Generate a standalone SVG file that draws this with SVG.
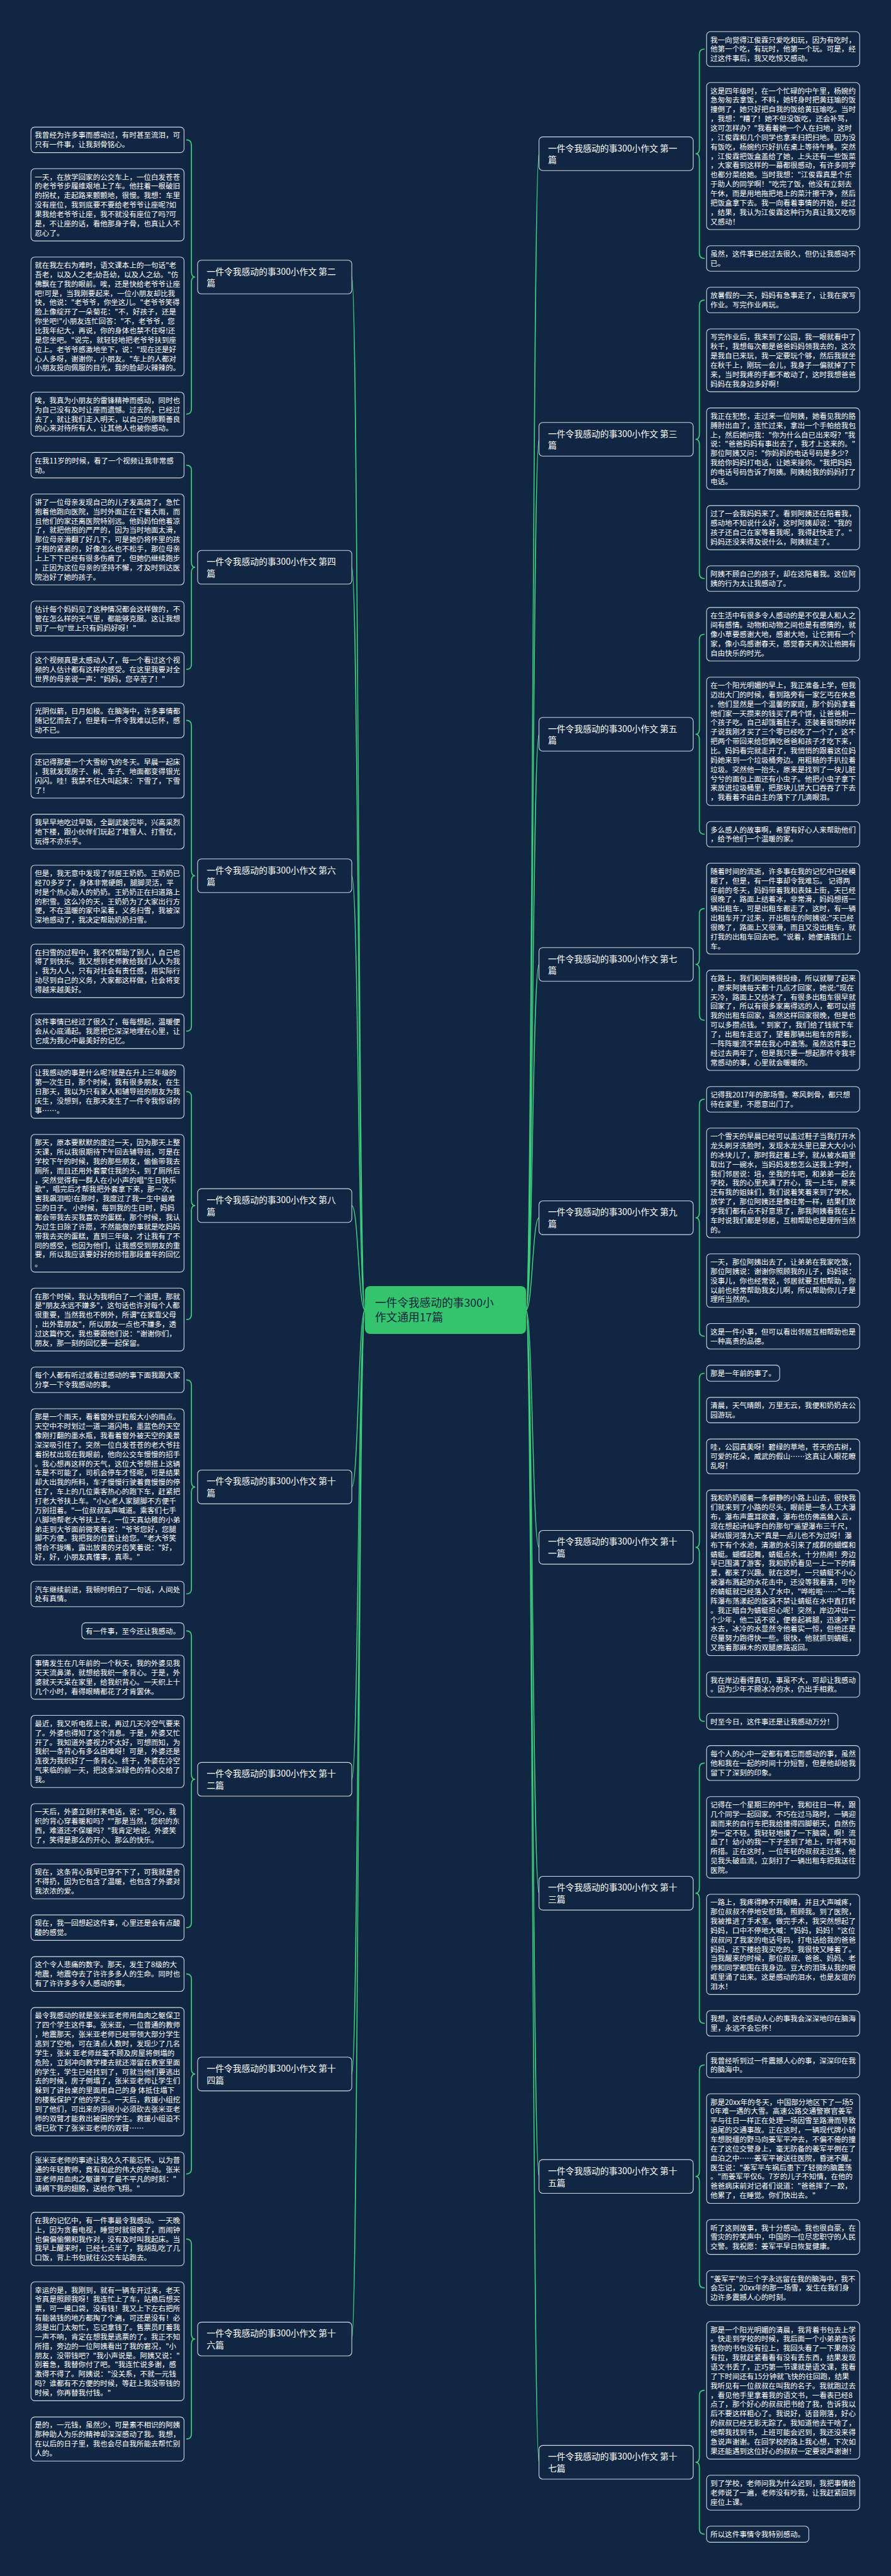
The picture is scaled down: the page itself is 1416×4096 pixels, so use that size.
<svg xmlns="http://www.w3.org/2000/svg" width="1416" height="4096" viewBox="0 0 1416 4096">
<style>
.box{fill:#102642;stroke:#d3d9e0;stroke-width:1.1}
.t{font-family:"Noto Sans CJK SC","Noto Sans",sans-serif;font-size:11.56px;fill:#ffffff;white-space:pre}
.bt{font-family:"Noto Sans CJK SC","Noto Sans",sans-serif;font-size:13.8px;fill:#ffffff;white-space:pre}
.br{fill:none;stroke:#3ecf7c;stroke-width:1.7}
.ln{fill:none;stroke:#3ecf7c;stroke-width:1.5}
</style>
<rect x="0" y="0" width="1416" height="4096" fill="#102642"/>
<g id="connectors">
<path class="ln" d="M580,2083 C569.5,2083 569.5,440.5 559.1,440.5"/>
<path class="ln" d="M580,2083 C569.5,2083 569.5,902 559.1,902"/>
<path class="ln" d="M580,2083 C569.5,2083 569.5,1392.5 559.1,1392.5"/>
<path class="ln" d="M580,2083 C569.5,2083 569.5,1916.9 559.1,1916.9"/>
<path class="ln" d="M580,2083 C569.5,2083 569.5,2364.3 559.1,2364.3"/>
<path class="ln" d="M580,2083 C569.5,2083 569.5,2829.2 559.1,2829.2"/>
<path class="ln" d="M580,2083 C569.5,2083 569.5,3297.8 559.1,3297.8"/>
<path class="ln" d="M580,2083 C569.5,2083 569.5,3719.2 559.1,3719.2"/>
<path class="ln" d="M836,2083 C846.3,2083 846.3,244.4 856.6,244.4"/>
<path class="ln" d="M836,2083 C846.3,2083 846.3,698.5 856.6,698.5"/>
<path class="ln" d="M836,2083 C846.3,2083 846.3,1167.5 856.6,1167.5"/>
<path class="ln" d="M836,2083 C846.3,2083 846.3,1533.5 856.6,1533.5"/>
<path class="ln" d="M836,2083 C846.3,2083 846.3,1936.3 856.6,1936.3"/>
<path class="ln" d="M836,2083 C846.3,2083 846.3,2460.3 856.6,2460.3"/>
<path class="ln" d="M836,2083 C846.3,2083 846.3,3010.3 856.6,3010.3"/>
<path class="ln" d="M836,2083 C846.3,2083 846.3,3460.7 856.6,3460.7"/>
<path class="ln" d="M836,2083 C846.3,2083 846.3,3915.2 856.6,3915.2"/>
<!-- brackets left -->
<path class="br" d="M295.9,222.4 Q304.2,222.4 304.2,230.4 L304.2,432.5 Q304.2,440.5 310.2,440.5 Q304.2,440.5 304.2,448.5 L304.2,650.6 Q304.2,658.6 295.9,658.6"/>
<path class="br" d="M295.9,739.6 Q304.2,739.6 304.2,747.6 L304.2,894 Q304.2,902 310.2,902 Q304.2,902 304.2,910 L304.2,1056.4 Q304.2,1064.4 295.9,1064.4"/>
<path class="br" d="M295.9,1145.4 Q304.2,1145.4 304.2,1153.4 L304.2,1384.5 Q304.2,1392.5 310.2,1392.5 Q304.2,1392.5 304.2,1400.5 L304.2,1631.7 Q304.2,1639.7 295.9,1639.7"/>
<path class="br" d="M295.9,1735.6 Q304.2,1735.6 304.2,1743.6 L304.2,1908.9 Q304.2,1916.9 310.2,1916.9 Q304.2,1916.9 304.2,1924.9 L304.2,2090.2 Q304.2,2098.2 295.9,2098.2"/>
<path class="br" d="M295.9,2194.1 Q304.2,2194.1 304.2,2202.1 L304.2,2356.3 Q304.2,2364.3 310.2,2364.3 Q304.2,2364.3 304.2,2372.3 L304.2,2526.5 Q304.2,2534.5 295.9,2534.5"/>
<path class="br" d="M295.9,2593.2 Q304.2,2593.2 304.2,2601.2 L304.2,2821.2 Q304.2,2829.2 310.2,2829.2 Q304.2,2829.2 304.2,2837.2 L304.2,3057.2 Q304.2,3065.2 295.9,3065.2"/>
<path class="br" d="M295.9,3138.7 Q304.2,3138.7 304.2,3146.7 L304.2,3289.8 Q304.2,3297.8 310.2,3297.8 Q304.2,3297.8 304.2,3305.8 L304.2,3448.8 Q304.2,3456.8 295.9,3456.8"/>
<path class="br" d="M295.9,3560.1 Q304.2,3560.1 304.2,3568.1 L304.2,3711.2 Q304.2,3719.2 310.2,3719.2 Q304.2,3719.2 304.2,3727.2 L304.2,3870.2 Q304.2,3878.2 295.9,3878.2"/>
<!-- brackets right -->
<path class="br" d="M1119.8,78 Q1111.5,78 1111.5,86 L1111.5,236.4 Q1111.5,244.4 1105.4,244.4 Q1111.5,244.4 1111.5,252.4 L1111.5,402.9 Q1111.5,410.9 1119.8,410.9"/>
<path class="br" d="M1119.8,477.1 Q1111.5,477.1 1111.5,485.1 L1111.5,690.5 Q1111.5,698.5 1105.4,698.5 Q1111.5,698.5 1111.5,706.5 L1111.5,912 Q1111.5,920 1119.8,920"/>
<path class="br" d="M1119.8,1008.5 Q1111.5,1008.5 1111.5,1016.5 L1111.5,1159.5 Q1111.5,1167.5 1105.4,1167.5 Q1111.5,1167.5 1111.5,1175.5 L1111.5,1318.5 Q1111.5,1326.5 1119.8,1326.5"/>
<path class="br" d="M1119.8,1444.7 Q1111.5,1444.7 1111.5,1452.7 L1111.5,1525.5 Q1111.5,1533.5 1105.4,1533.5 Q1111.5,1533.5 1111.5,1541.5 L1111.5,1614.3 Q1111.5,1622.3 1119.8,1622.3"/>
<path class="br" d="M1119.8,1747.9 Q1111.5,1747.9 1111.5,1755.9 L1111.5,1928.3 Q1111.5,1936.3 1105.4,1936.3 Q1111.5,1936.3 1111.5,1944.3 L1111.5,2116.7 Q1111.5,2124.7 1119.8,2124.7"/>
<path class="br" d="M1119.8,2183.5 Q1111.5,2183.5 1111.5,2191.5 L1111.5,2452.3 Q1111.5,2460.3 1105.4,2460.3 Q1111.5,2460.3 1111.5,2468.3 L1111.5,2729.2 Q1111.5,2737.2 1119.8,2737.2"/>
<path class="br" d="M1119.8,2803.3 Q1111.5,2803.3 1111.5,2811.3 L1111.5,3002.3 Q1111.5,3010.3 1105.4,3010.3 Q1111.5,3010.3 1111.5,3018.3 L1111.5,3209.3 Q1111.5,3217.3 1119.8,3217.3"/>
<path class="br" d="M1119.8,3283.4 Q1111.5,3283.4 1111.5,3291.4 L1111.5,3452.7 Q1111.5,3460.7 1105.4,3460.7 Q1111.5,3460.7 1111.5,3468.7 L1111.5,3629.9 Q1111.5,3637.9 1119.8,3637.9"/>
<path class="br" d="M1119.8,3800.7 Q1111.5,3800.7 1111.5,3808.7 L1111.5,3907.2 Q1111.5,3915.2 1105.4,3915.2 Q1111.5,3915.2 1111.5,3923.2 L1111.5,4021.6 Q1111.5,4029.6 1119.8,4029.6"/>
</g>
<g id="center">
<rect x="580" y="2045" width="256" height="76" rx="8" fill="#35c46e"/>
<text x="596" y="2078" font-family="Noto Sans CJK SC, sans-serif" font-size="17.7" fill="#10263f">一件令我感动的事300小</text>
<text x="596" y="2101" font-family="Noto Sans CJK SC, sans-serif" font-size="17.7" fill="#10263f">作文通用17篇</text>
</g>
<!-- branch nodes -->
<g id="b2"><rect class="box" x="314.1" y="413.7" width="245" height="53.6" rx="6"/><text class="bt" x="328.5" y="436.6">一件令我感动的事300小作文 第二</text><text class="bt" x="328.5" y="455.4">篇</text></g>
<g id="b4"><rect class="box" x="314.1" y="875.2" width="245" height="53.6" rx="6"/><text class="bt" x="328.5" y="898.1">一件令我感动的事300小作文 第四</text><text class="bt" x="328.5" y="916.9">篇</text></g>
<g id="b6"><rect class="box" x="314.1" y="1365.7" width="245" height="53.6" rx="6"/><text class="bt" x="328.5" y="1388.6">一件令我感动的事300小作文 第六</text><text class="bt" x="328.5" y="1407.4">篇</text></g>
<g id="b8"><rect class="box" x="314.1" y="1890.1" width="245" height="53.6" rx="6"/><text class="bt" x="328.5" y="1913">一件令我感动的事300小作文 第八</text><text class="bt" x="328.5" y="1931.8">篇</text></g>
<g id="b10"><rect class="box" x="314.1" y="2337.5" width="245" height="53.6" rx="6"/><text class="bt" x="328.5" y="2360.4">一件令我感动的事300小作文 第十</text><text class="bt" x="328.5" y="2379.2">篇</text></g>
<g id="b12"><rect class="box" x="314.1" y="2802.4" width="245" height="53.6" rx="6"/><text class="bt" x="328.5" y="2825.3">一件令我感动的事300小作文 第十</text><text class="bt" x="328.5" y="2844.1">二篇</text></g>
<g id="b14"><rect class="box" x="314.1" y="3271" width="245" height="53.6" rx="6"/><text class="bt" x="328.5" y="3293.9">一件令我感动的事300小作文 第十</text><text class="bt" x="328.5" y="3312.7">四篇</text></g>
<g id="b16"><rect class="box" x="314.1" y="3692.4" width="245" height="53.6" rx="6"/><text class="bt" x="328.5" y="3715.3">一件令我感动的事300小作文 第十</text><text class="bt" x="328.5" y="3734.1">六篇</text></g>
<g id="b1"><rect class="box" x="856.6" y="217.6" width="245" height="53.6" rx="6"/><text class="bt" x="871" y="240.5">一件令我感动的事300小作文 第一</text><text class="bt" x="871" y="259.3">篇</text></g>
<g id="b3"><rect class="box" x="856.6" y="671.7" width="245" height="53.6" rx="6"/><text class="bt" x="871" y="694.6">一件令我感动的事300小作文 第三</text><text class="bt" x="871" y="713.4">篇</text></g>
<g id="b5"><rect class="box" x="856.6" y="1140.7" width="245" height="53.6" rx="6"/><text class="bt" x="871" y="1163.6">一件令我感动的事300小作文 第五</text><text class="bt" x="871" y="1182.4">篇</text></g>
<g id="b7"><rect class="box" x="856.6" y="1506.7" width="245" height="53.6" rx="6"/><text class="bt" x="871" y="1529.6">一件令我感动的事300小作文 第七</text><text class="bt" x="871" y="1548.4">篇</text></g>
<g id="b9"><rect class="box" x="856.6" y="1909.5" width="245" height="53.6" rx="6"/><text class="bt" x="871" y="1932.4">一件令我感动的事300小作文 第九</text><text class="bt" x="871" y="1951.2">篇</text></g>
<g id="b11"><rect class="box" x="856.6" y="2433.5" width="245" height="53.6" rx="6"/><text class="bt" x="871" y="2456.4">一件令我感动的事300小作文 第十</text><text class="bt" x="871" y="2475.2">一篇</text></g>
<g id="b13"><rect class="box" x="856.6" y="2983.5" width="245" height="53.6" rx="6"/><text class="bt" x="871" y="3006.4">一件令我感动的事300小作文 第十</text><text class="bt" x="871" y="3025.2">三篇</text></g>
<g id="b15"><rect class="box" x="856.6" y="3433.9" width="245" height="53.6" rx="6"/><text class="bt" x="871" y="3456.8">一件令我感动的事300小作文 第十</text><text class="bt" x="871" y="3475.6">五篇</text></g>
<g id="b17"><rect class="box" x="856.6" y="3888.4" width="245" height="53.6" rx="6"/><text class="bt" x="871" y="3911.3">一件令我感动的事300小作文 第十</text><text class="bt" x="871" y="3930.1">七篇</text></g>
<!-- left leaves -->
<g id="l2-1"><rect class="box" x="49.2" y="202.1" width="243.3" height="40.5" rx="6"/><text class="t" x="55.3" y="219.4"><tspan x="55.3">我曾经为许多事而感动过，有时甚至流泪，可</tspan><tspan x="55.3" dy="14.86">只有一件事，让我刻骨铭心。</tspan></text></g>
<g id="l2-2"><rect class="box" x="49.2" y="268.3" width="243.3" height="114.8" rx="6"/><text class="t" x="55.3" y="285.6"><tspan x="55.3">一天，在放学回家的公交车上，一位白发苍苍</tspan><tspan x="55.3" dy="14.86">的老爷爷步履维艰地上了车。他拄着一根破旧</tspan><tspan x="55.3" dy="14.86">的拐杖，走起路来颤颤地，很慢。我想：车里</tspan><tspan x="55.3" dy="14.86">没有座位，我到底要不要给老爷爷让座呢?如</tspan><tspan x="55.3" dy="14.86">果我给老爷爷让座，我不就没有座位了吗?可</tspan><tspan x="55.3" dy="14.86">是，不让座的话，看他那身子骨，也真让人不</tspan><tspan x="55.3" dy="14.86">忍心了。</tspan></text></g>
<g id="l2-3"><rect class="box" x="49.2" y="408.7" width="243.3" height="189.1" rx="6"/><text class="t" x="55.3" y="426"><tspan x="55.3">就在我左右为难时，语文课本上的一句话"老</tspan><tspan x="55.3" dy="14.86">吾老，以及人之老;幼吾幼，以及人之幼。"仿</tspan><tspan x="55.3" dy="14.86">佛飘在了我的眼前。唉，还是快给老爷爷让座</tspan><tspan x="55.3" dy="14.86">吧!可是，当我刚要起来，一位小朋友却比我</tspan><tspan x="55.3" dy="14.86">快，他说："老爷爷，你坐这儿。"老爷爷笑得</tspan><tspan x="55.3" dy="14.86">脸上像绽开了一朵菊花："不，好孩子，还是</tspan><tspan x="55.3" dy="14.86">你坐吧!"小朋友连忙回答："不，老爷爷，您</tspan><tspan x="55.3" dy="14.86">比我年纪大，再说，你的身体也禁不住呀!还</tspan><tspan x="55.3" dy="14.86">是您坐吧。"说完，就轻轻地把老爷爷扶到座</tspan><tspan x="55.3" dy="14.86">位上。老爷爷感激地坐下，说："现在还是好</tspan><tspan x="55.3" dy="14.86">心人多呀，谢谢你，小朋友。"车上的人都对</tspan><tspan x="55.3" dy="14.86">小朋友投向佩服的目光，我的脸却火辣辣的。</tspan></text></g>
<g id="l2-4"><rect class="box" x="49.2" y="623.5" width="243.3" height="70.2" rx="6"/><text class="t" x="55.3" y="640.8"><tspan x="55.3">唉，我真为小朋友的雷锋精神而感动，同时也</tspan><tspan x="55.3" dy="14.86">为自己没有及时让座而遗憾。过去的，已经过</tspan><tspan x="55.3" dy="14.86">去了，就让我们走入明天，以自己的那颗善良</tspan><tspan x="55.3" dy="14.86">的心来对待所有人，让其他人也被你感动。</tspan></text></g>
<g id="l4-1"><rect class="box" x="49.2" y="719.4" width="243.3" height="40.5" rx="6"/><text class="t" x="55.3" y="736.7"><tspan x="55.3">在我11岁的时候，看了一个视频让我非常感</tspan><tspan x="55.3" dy="14.86">动。</tspan></text></g>
<g id="l4-2"><rect class="box" x="49.2" y="785.5" width="243.3" height="144.5" rx="6"/><text class="t" x="55.3" y="802.8"><tspan x="55.3">讲了一位母亲发现自己的儿子发高烧了，急忙</tspan><tspan x="55.3" dy="14.86">抱着他跑向医院，当时外面正在下着大雨，而</tspan><tspan x="55.3" dy="14.86">且他们的家还离医院特别远。他妈妈怕他着凉</tspan><tspan x="55.3" dy="14.86">了，就把他抱的严严的，因为当时地面太滑，</tspan><tspan x="55.3" dy="14.86">那位母亲滑翻了好几下，可是她仍将怀里的孩</tspan><tspan x="55.3" dy="14.86">子抱的紧紧的，好像怎么也不松手，那位母亲</tspan><tspan x="55.3" dy="14.86">上上下下已经有很多伤痕了，但她仍继续跑步</tspan><tspan x="55.3" dy="14.86">，正因为这位母亲的坚持不懈，才及时到达医</tspan><tspan x="55.3" dy="14.86">院治好了她的孩子。</tspan></text></g>
<g id="l4-3"><rect class="box" x="49.2" y="955.7" width="243.3" height="55.4" rx="6"/><text class="t" x="55.3" y="973"><tspan x="55.3">估计每个妈妈见了这种情况都会这样做的，不</tspan><tspan x="55.3" dy="14.86">管在怎么样的天气里，都能够克服。这让我想</tspan><tspan x="55.3" dy="14.86">到了一句"世上只有妈妈好呀！"</tspan></text></g>
<g id="l4-4"><rect class="box" x="49.2" y="1036.7" width="243.3" height="55.4" rx="6"/><text class="t" x="55.3" y="1054"><tspan x="55.3">这个视频真是太感动人了，每一个看过这个视</tspan><tspan x="55.3" dy="14.86">频的人估计都有这样的感受。在这里我要对全</tspan><tspan x="55.3" dy="14.86">世界的母亲说一声："妈妈，您辛苦了！"</tspan></text></g>
<g id="l6-1"><rect class="box" x="49.2" y="1117.7" width="243.3" height="55.4" rx="6"/><text class="t" x="55.3" y="1135"><tspan x="55.3">光阴似箭，日月如梭。在脑海中，许多事情都</tspan><tspan x="55.3" dy="14.86">随记忆而去了，但是有一件令我难以忘怀，感</tspan><tspan x="55.3" dy="14.86">动不已。</tspan></text></g>
<g id="l6-2"><rect class="box" x="49.2" y="1198.8" width="243.3" height="70.2" rx="6"/><text class="t" x="55.3" y="1216.1"><tspan x="55.3">还记得那是一个大雪纷飞的冬天。早晨一起床</tspan><tspan x="55.3" dy="14.86">，我就发现房子、树、车子、地面都变得银光</tspan><tspan x="55.3" dy="14.86">闪闪。哇！我禁不住大叫起来：下雪了，下雪</tspan><tspan x="55.3" dy="14.86">了！</tspan></text></g>
<g id="l6-3"><rect class="box" x="49.2" y="1294.6" width="243.3" height="55.4" rx="6"/><text class="t" x="55.3" y="1311.9"><tspan x="55.3">我早早地吃过早饭，全副武装完毕，兴高采烈</tspan><tspan x="55.3" dy="14.86">地下楼，跟小伙伴们玩起了堆雪人、打雪仗，</tspan><tspan x="55.3" dy="14.86">玩得不亦乐乎。</tspan></text></g>
<g id="l6-4"><rect class="box" x="49.2" y="1375.7" width="243.3" height="99.9" rx="6"/><text class="t" x="55.3" y="1393"><tspan x="55.3">但是，我无意中发现了邻居王奶奶。王奶奶已</tspan><tspan x="55.3" dy="14.86">经70多岁了，身体非常硬朗，腿脚灵活，平</tspan><tspan x="55.3" dy="14.86">时是个热心助人的奶奶。王奶奶正在扫道路上</tspan><tspan x="55.3" dy="14.86">的积雪。这么冷的天，王奶奶为了大家出行方</tspan><tspan x="55.3" dy="14.86">便，不在温暖的家中呆着，义务扫雪，我被深</tspan><tspan x="55.3" dy="14.86">深地感动了，我决定帮助奶奶扫雪。</tspan></text></g>
<g id="l6-5"><rect class="box" x="49.2" y="1501.3" width="243.3" height="85.1" rx="6"/><text class="t" x="55.3" y="1518.6"><tspan x="55.3">在扫雪的过程中，我不仅帮助了别人，自己也</tspan><tspan x="55.3" dy="14.86">得了到快乐。我又想到老师教给我们人人为我</tspan><tspan x="55.3" dy="14.86">，我为人人，只有对社会有责任感，用实际行</tspan><tspan x="55.3" dy="14.86">动尽到自己的义务，大家都这样做，社会将变</tspan><tspan x="55.3" dy="14.86">得越来越美好。</tspan></text></g>
<g id="l6-6"><rect class="box" x="49.2" y="1612" width="243.3" height="55.4" rx="6"/><text class="t" x="55.3" y="1629.3"><tspan x="55.3">这件事情已经过了很久了，每每想起，温暖便</tspan><tspan x="55.3" dy="14.86">会从心底涌起。我愿把它深深地埋在心里，让</tspan><tspan x="55.3" dy="14.86">它成为我心中最美好的记忆。</tspan></text></g>
<g id="l8-1"><rect class="box" x="49.2" y="1693" width="243.3" height="85.1" rx="6"/><text class="t" x="55.3" y="1710.3"><tspan x="55.3">让我感动的事是什么呢?就是在升上三年级的</tspan><tspan x="55.3" dy="14.86">第一次生日，那个时候，我有很多朋友，在生</tspan><tspan x="55.3" dy="14.86">日那天，我以为只有家人和辅导班的朋友为我</tspan><tspan x="55.3" dy="14.86">庆生，没想到，在那天发生了一件令我惊讶的</tspan><tspan x="55.3" dy="14.86">事……。</tspan></text></g>
<g id="l8-2"><rect class="box" x="49.2" y="1803.8" width="243.3" height="218.8" rx="6"/><text class="t" x="55.3" y="1821.1"><tspan x="55.3">那天，原本要默默的度过一天，因为那天上整</tspan><tspan x="55.3" dy="14.86">天课，所以我很期待下午回去辅导班，可是在</tspan><tspan x="55.3" dy="14.86">学校下午的时候，我的那些朋友，偷偷带我去</tspan><tspan x="55.3" dy="14.86">厕所，而且还用外套蒙住我的头，到了厕所后</tspan><tspan x="55.3" dy="14.86">，突然觉得有一群人在小小声的唱"生日快乐</tspan><tspan x="55.3" dy="14.86">歌"，唱完后才帮我把外套拿下来，那一次，</tspan><tspan x="55.3" dy="14.86">害我飙泪啦!在那时，我度过了我一生中最难</tspan><tspan x="55.3" dy="14.86">忘的日子。 小时候，每到我的生日时，妈妈</tspan><tspan x="55.3" dy="14.86">都会带我去买我喜欢的蛋糕，那个时候，我认</tspan><tspan x="55.3" dy="14.86">为过生日除了许愿，不然能做的事就是吃妈妈</tspan><tspan x="55.3" dy="14.86">带我去买的蛋糕，直到三年级，才让我有了不</tspan><tspan x="55.3" dy="14.86">同的感受，也因为他们，让我感受到朋友的重</tspan><tspan x="55.3" dy="14.86">要，所以我应该要好好的珍惜那段童年的回忆</tspan><tspan x="55.3" dy="14.86">。</tspan></text></g>
<g id="l8-3"><rect class="box" x="49.2" y="2048.2" width="243.3" height="99.9" rx="6"/><text class="t" x="55.3" y="2065.5"><tspan x="55.3">在那个时候，我认为我明白了一个道理，那就</tspan><tspan x="55.3" dy="14.86">是"朋友永远不嫌多"，这句话也许对每个人都</tspan><tspan x="55.3" dy="14.86">很重要，当然我也不例外，所谓"在家靠父母</tspan><tspan x="55.3" dy="14.86">，出外靠朋友"，所以朋友一点也不嫌多，透</tspan><tspan x="55.3" dy="14.86">过这篇作文，我也要跟他们说："谢谢你们，</tspan><tspan x="55.3" dy="14.86">朋友，那一刻的回忆要一起保留。</tspan></text></g>
<g id="l10-1"><rect class="box" x="49.2" y="2173.8" width="243.3" height="40.5" rx="6"/><text class="t" x="55.3" y="2191.1"><tspan x="55.3">每个人都有听过或看过感动的事下面我跟大家</tspan><tspan x="55.3" dy="14.86">分享一下令我感动的事。</tspan></text></g>
<g id="l10-2"><rect class="box" x="49.2" y="2240" width="243.3" height="248.5" rx="6"/><text class="t" x="55.3" y="2257.3"><tspan x="55.3">那是一个雨天，看着窗外豆粒般大小的雨点。</tspan><tspan x="55.3" dy="14.86">天空中不时划过一道一道闪电，墨蓝色的天空</tspan><tspan x="55.3" dy="14.86">像刚打翻的墨水瓶，我看着窗外被天空的美景</tspan><tspan x="55.3" dy="14.86">深深吸引住了。突然一位白发苍苍的老大爷拄</tspan><tspan x="55.3" dy="14.86">着拐杖出现在我眼前，他向公交车慢慢的招手</tspan><tspan x="55.3" dy="14.86">。我心想再这样的天气，这位大爷想搭上这辆</tspan><tspan x="55.3" dy="14.86">车是不可能了，司机会停车才怪呢，可是结果</tspan><tspan x="55.3" dy="14.86">却大出我的所料，车子慢慢行驶着竟慢慢的停</tspan><tspan x="55.3" dy="14.86">住了，车上的几位乘客热心的跑下车，赶紧把</tspan><tspan x="55.3" dy="14.86">打老大爷扶上车。"小心老人家腿脚不方便千</tspan><tspan x="55.3" dy="14.86">万别扭着。"一位叔叔高声喊道。乘客们七手</tspan><tspan x="55.3" dy="14.86">八脚地帮老大爷扶上车，一位天真幼稚的小弟</tspan><tspan x="55.3" dy="14.86">弟走到大爷面前微笑着说："爷爷您好，您腿</tspan><tspan x="55.3" dy="14.86">脚不方便。我把我的位置让给您。"老大爷笑</tspan><tspan x="55.3" dy="14.86">得合不拢嘴，露出放黄的牙齿笑着说："好，</tspan><tspan x="55.3" dy="14.86">好，好，小朋友真懂事，真乖。"</tspan></text></g>
<g id="l10-3"><rect class="box" x="49.2" y="2514.2" width="243.3" height="40.5" rx="6"/><text class="t" x="55.3" y="2531.5"><tspan x="55.3">汽车继续前进，我顿时明白了一句话，人间处</tspan><tspan x="55.3" dy="14.86">处有真情。</tspan></text></g>
<g id="l12-1"><rect class="box" x="130" y="2580.4" width="162.5" height="25.6" rx="6"/><text class="t" x="136.1" y="2597.7">有一件事，至今还让我感动。</text></g>
<g id="l12-2"><rect class="box" x="49.2" y="2631.7" width="243.3" height="70.2" rx="6"/><text class="t" x="55.3" y="2649"><tspan x="55.3">事情发生在几年前的一个秋天，我的外婆见我</tspan><tspan x="55.3" dy="14.86">天天流鼻涕，就想给我织一条背心。于是，外</tspan><tspan x="55.3" dy="14.86">婆就天天呆在家里，给我织背心。一天织上十</tspan><tspan x="55.3" dy="14.86">几个小时，看得眼睛都花了才肯罢休。</tspan></text></g>
<g id="l12-3"><rect class="box" x="49.2" y="2727.5" width="243.3" height="114.8" rx="6"/><text class="t" x="55.3" y="2744.8"><tspan x="55.3">最近，我又听电视上说，再过几天冷空气要来</tspan><tspan x="55.3" dy="14.86">了。外婆也得知了这个消息。于是，外婆又忙</tspan><tspan x="55.3" dy="14.86">开了。我知道外婆视力不太好，可想而知，为</tspan><tspan x="55.3" dy="14.86">我织一条背心有多么困难呀！可是，外婆还是</tspan><tspan x="55.3" dy="14.86">连夜为我织好了一条背心。终于，外婆在冷空</tspan><tspan x="55.3" dy="14.86">气来临的前一天，把这条深绿色的背心交给了</tspan><tspan x="55.3" dy="14.86">我。</tspan></text></g>
<g id="l12-4"><rect class="box" x="49.2" y="2868" width="243.3" height="70.2" rx="6"/><text class="t" x="55.3" y="2885.3"><tspan x="55.3">一天后，外婆立刻打来电话，说："可心，我</tspan><tspan x="55.3" dy="14.86">织的背心穿着暖和吗？""那是当然，您织的东</tspan><tspan x="55.3" dy="14.86">西，难道还不保暖吗？"我肯定地说。外婆笑</tspan><tspan x="55.3" dy="14.86">了，笑得是那么的开心、那么的快乐。</tspan></text></g>
<g id="l12-5"><rect class="box" x="49.2" y="2963.9" width="243.3" height="55.4" rx="6"/><text class="t" x="55.3" y="2981.2"><tspan x="55.3">现在，这条背心我早已穿不下了，可我就是舍</tspan><tspan x="55.3" dy="14.86">不得扔，因为它包含了温暖，也包含了外婆对</tspan><tspan x="55.3" dy="14.86">我浓浓的爱。</tspan></text></g>
<g id="l12-6"><rect class="box" x="49.2" y="3044.9" width="243.3" height="40.5" rx="6"/><text class="t" x="55.3" y="3062.2"><tspan x="55.3">现在，我一回想起这件事，心里还是会有点酸</tspan><tspan x="55.3" dy="14.86">酸的感觉。</tspan></text></g>
<g id="l14-1"><rect class="box" x="49.2" y="3111.1" width="243.3" height="55.4" rx="6"/><text class="t" x="55.3" y="3128.4"><tspan x="55.3">这个令人悲痛的数字。那天，发生了8级的大</tspan><tspan x="55.3" dy="14.86">地震，地震夺去了许许多多人的生命。同时也</tspan><tspan x="55.3" dy="14.86">有了许许多多令人感动的事。</tspan></text></g>
<g id="l14-2"><rect class="box" x="49.2" y="3192.1" width="243.3" height="204" rx="6"/><text class="t" x="55.3" y="3209.4"><tspan x="55.3">最令我感动的就是张米亚老师用血肉之躯保卫</tspan><tspan x="55.3" dy="14.86">了四个学生这件事。张米亚，一位普通的教师</tspan><tspan x="55.3" dy="14.86">，地震那天，张米亚老师已经带领大部分学生</tspan><tspan x="55.3" dy="14.86">逃到了空地，可在清点人数时，发现少了几名</tspan><tspan x="55.3" dy="14.86">学生，张米 亚老师丝毫不顾及房屋将倒塌的</tspan><tspan x="55.3" dy="14.86">危险，立刻冲向教学楼去就还滞留在教室里面</tspan><tspan x="55.3" dy="14.86">的学生，学生已经找到了，可就当他们要逃出</tspan><tspan x="55.3" dy="14.86">去的时候，房子倒塌了，张米亚老师让学生们</tspan><tspan x="55.3" dy="14.86">躲到了讲台桌的里面用自己的身 体抵住塌下</tspan><tspan x="55.3" dy="14.86">的楼板保护了他的学生。一天后，救援小组挖</tspan><tspan x="55.3" dy="14.86">到了他们，可出来的洞很小必须砍去张米亚老</tspan><tspan x="55.3" dy="14.86">师的双臂才能救出被困的学生。救援小组迫不</tspan><tspan x="55.3" dy="14.86">得已砍下了张米亚老师的双臂……</tspan></text></g>
<g id="l14-3"><rect class="box" x="49.2" y="3421.7" width="243.3" height="70.2" rx="6"/><text class="t" x="55.3" y="3439"><tspan x="55.3">张米亚老师的事迹让我久久不能忘怀。以为普</tspan><tspan x="55.3" dy="14.86">通的年轻教师，竟有如此的伟大的举动。张米</tspan><tspan x="55.3" dy="14.86">亚老师用血肉之躯谱写了最不平凡的时刻："</tspan><tspan x="55.3" dy="14.86">请摘下我的翅膀，送给你飞翔。"</tspan></text></g>
<g id="l16-1"><rect class="box" x="49.2" y="3517.6" width="243.3" height="85.1" rx="6"/><text class="t" x="55.3" y="3534.9"><tspan x="55.3">在我的记忆中，有一件事最令我感动。一天晚</tspan><tspan x="55.3" dy="14.86">上，因为贪看电视，睡觉时就很晚了，而闹钟</tspan><tspan x="55.3" dy="14.86">也偏偏偷懒和我作对，没有及时叫我起床。当</tspan><tspan x="55.3" dy="14.86">我早上醒来时，已经七点半了，我胡乱吃了几</tspan><tspan x="55.3" dy="14.86">口饭，背上书包就往公交车站跑去。</tspan></text></g>
<g id="l16-2"><rect class="box" x="49.2" y="3628.3" width="243.3" height="189.1" rx="6"/><text class="t" x="55.3" y="3645.6"><tspan x="55.3">幸运的是，我刚到，就有一辆车开过来，老天</tspan><tspan x="55.3" dy="14.86">爷真是照顾我呀！我连忙上了车，站稳后想买</tspan><tspan x="55.3" dy="14.86">票，可一摸口袋，没有钱！我又上下左右把所</tspan><tspan x="55.3" dy="14.86">有能装钱的地方都掏了个遍，可还是没有！必</tspan><tspan x="55.3" dy="14.86">须是出门太匆忙，忘记拿钱了。售票员盯着我</tspan><tspan x="55.3" dy="14.86">一声不响，肯定在想我是逃票的了。我正不知</tspan><tspan x="55.3" dy="14.86">所措，旁边的一位阿姨看出了我的窘况，"小</tspan><tspan x="55.3" dy="14.86">朋友，没带钱吧？"我小声说是。阿姨又说："</tspan><tspan x="55.3" dy="14.86">别着急，我替你付了吧。"我连忙说多谢，感</tspan><tspan x="55.3" dy="14.86">激得不得了。阿姨说："没关系，不就一元钱</tspan><tspan x="55.3" dy="14.86">吗？谁都有不方便的时候，等赶上我没带钱的</tspan><tspan x="55.3" dy="14.86">时候，你再替我付钱。"</tspan></text></g>
<g id="l16-3"><rect class="box" x="49.2" y="3843.1" width="243.3" height="70.2" rx="6"/><text class="t" x="55.3" y="3860.4"><tspan x="55.3">是的，一元钱，虽然少，可是素不相识的阿姨</tspan><tspan x="55.3" dy="14.86">那种助人为乐的精神却深深感动了我。我想，</tspan><tspan x="55.3" dy="14.86">在以后的日子里，我也会尽自我所能去帮忙别</tspan><tspan x="55.3" dy="14.86">人的。</tspan></text></g>
<!-- right leaves -->
<g id="r1-1"><rect class="box" x="1122.9" y="50.3" width="243.3" height="55.4" rx="6"/><text class="t" x="1129" y="67.6"><tspan x="1129">我一向觉得江俊霖只爱吃和玩，因为有吃时，</tspan><tspan x="1129" dy="14.86">他第一个吃，有玩时，他第一个玩。可是，经</tspan><tspan x="1129" dy="14.86">过这件事后，我又吃惊又感动。</tspan></text></g>
<g id="r1-2"><rect class="box" x="1122.9" y="131.3" width="243.3" height="233.7" rx="6"/><text class="t" x="1129" y="148.6"><tspan x="1129">这是四年级时，在一个忙碌的中午里，杨婉约</tspan><tspan x="1129" dy="14.86">急匆匆去拿饭，不料，她转身时把黄珏瑜的饭</tspan><tspan x="1129" dy="14.86">撞倒了，她只好把自我的饭给黄珏瑜吃。当时</tspan><tspan x="1129" dy="14.86">，我想："糟了！她不但没饭吃，还会补骂，</tspan><tspan x="1129" dy="14.86">这可怎样办？"我看着她一个人在扫地，这时</tspan><tspan x="1129" dy="14.86">，江俊霖和几个同学也拿来扫把扫地。因为没</tspan><tspan x="1129" dy="14.86">有饭吃，杨婉约只好扒在桌上等待午睡。突然</tspan><tspan x="1129" dy="14.86">，江俊霖把饭盒盖给了她，上头还有一些饭菜</tspan><tspan x="1129" dy="14.86">，大家看到这样的一幕都很感动，有许多同学</tspan><tspan x="1129" dy="14.86">也都分菜给她。当时我想："江俊霖真是个乐</tspan><tspan x="1129" dy="14.86">于助人的同学啊！"吃完了饭，他没有立刻去</tspan><tspan x="1129" dy="14.86">午休，而是用地拖把地上的菜汁擦干净，然后</tspan><tspan x="1129" dy="14.86">把饭盒拿下去。我一向看着事情的开始，经过</tspan><tspan x="1129" dy="14.86">，结果，我认为江俊霖这种行为真让我又吃惊</tspan><tspan x="1129" dy="14.86">又感动！</tspan></text></g>
<g id="r1-3"><rect class="box" x="1122.9" y="390.7" width="243.3" height="40.5" rx="6"/><text class="t" x="1129" y="408"><tspan x="1129">虽然，这件事已经过去很久，但仍让我感动不</tspan><tspan x="1129" dy="14.86">已。</tspan></text></g>
<g id="r3-1"><rect class="box" x="1122.9" y="456.8" width="243.3" height="40.5" rx="6"/><text class="t" x="1129" y="474.1"><tspan x="1129">放暑假的一天，妈妈有急事走了，让我在家写</tspan><tspan x="1129" dy="14.86">作业。写完作业再玩。</tspan></text></g>
<g id="r3-2"><rect class="box" x="1122.9" y="523" width="243.3" height="99.9" rx="6"/><text class="t" x="1129" y="540.3"><tspan x="1129">写完作业后，我来到了公园，我一眼就看中了</tspan><tspan x="1129" dy="14.86">秋千，我想每次都是爸爸妈妈领我去的，这次</tspan><tspan x="1129" dy="14.86">是我自已来玩，我一定要玩个够，然后我就坐</tspan><tspan x="1129" dy="14.86">在秋千上，刚玩一会儿，我身子一偏就掉了下</tspan><tspan x="1129" dy="14.86">来，当时我疼的手都不敢动了，这时我想爸爸</tspan><tspan x="1129" dy="14.86">妈妈在我身边多好啊！</tspan></text></g>
<g id="r3-3"><rect class="box" x="1122.9" y="648.6" width="243.3" height="129.7" rx="6"/><text class="t" x="1129" y="665.9"><tspan x="1129">我正在犯愁，走过来一位阿姨，她看见我的胳</tspan><tspan x="1129" dy="14.86">膊肘出血了，连忙过来，拿出一个手帕给我包</tspan><tspan x="1129" dy="14.86">上，然后她问我："你为什么自已出来呀？"我</tspan><tspan x="1129" dy="14.86">说："爸爸妈妈有事出去了，我才上这来的。"</tspan><tspan x="1129" dy="14.86">那位阿姨又问："你妈妈的电话号码是多少？</tspan><tspan x="1129" dy="14.86">我给你妈妈打电话，让她来接你。"我把妈妈</tspan><tspan x="1129" dy="14.86">的电话号码告诉了阿姨。阿姨给我的妈妈打了</tspan><tspan x="1129" dy="14.86">电话。</tspan></text></g>
<g id="r3-4"><rect class="box" x="1122.9" y="803.9" width="243.3" height="70.2" rx="6"/><text class="t" x="1129" y="821.2"><tspan x="1129">过了一会我妈妈来了。看到阿姨还在陪着我，</tspan><tspan x="1129" dy="14.86">感动地不知说什么好，这时阿姨却说："我的</tspan><tspan x="1129" dy="14.86">孩子还自己在家等着我呢，我得赶快走了。"</tspan><tspan x="1129" dy="14.86">妈妈还没来得及说什么，阿姨就走了。</tspan></text></g>
<g id="r3-5"><rect class="box" x="1122.9" y="899.8" width="243.3" height="40.5" rx="6"/><text class="t" x="1129" y="917.1"><tspan x="1129">阿姨不顾自己的孩子，却在这陪着我。这位阿</tspan><tspan x="1129" dy="14.86">姨的行为太让我感动了。</tspan></text></g>
<g id="r5-1"><rect class="box" x="1122.9" y="965.9" width="243.3" height="85.1" rx="6"/><text class="t" x="1129" y="983.2"><tspan x="1129">在生活中有很多令人感动的是不仅是人和人之</tspan><tspan x="1129" dy="14.86">间有感情。动物和动物之间也是有感情的，就</tspan><tspan x="1129" dy="14.86">像小草要感谢大地，感谢大地，让它拥有一个</tspan><tspan x="1129" dy="14.86">家，像小鸟感谢春天，感觉春天再次让他拥有</tspan><tspan x="1129" dy="14.86">自由快乐的时光。</tspan></text></g>
<g id="r5-2"><rect class="box" x="1122.9" y="1076.7" width="243.3" height="204" rx="6"/><text class="t" x="1129" y="1094"><tspan x="1129">在一个阳光明媚的早上，我正准备上学，但我</tspan><tspan x="1129" dy="14.86">迈出大门的时候，看到路旁有一家乞丐在休息</tspan><tspan x="1129" dy="14.86">。他们显然是一个温馨的家庭，那个妈妈拿着</tspan><tspan x="1129" dy="14.86">他们家一天攒来的钱买了两个饼，让爸爸和一</tspan><tspan x="1129" dy="14.86">个孩子吃。自己却饿着肚子。还装着很饱的样</tspan><tspan x="1129" dy="14.86">子说我刚才买了三个零已经吃了一个了，这不</tspan><tspan x="1129" dy="14.86">把两个带回来给您俩吃爸爸和孩子才吃下来，</tspan><tspan x="1129" dy="14.86">比。妈妈看完就走开了，我悄悄的跟着这位妈</tspan><tspan x="1129" dy="14.86">妈她来到一个垃圾桶旁边。用粗糙的手扒拉着</tspan><tspan x="1129" dy="14.86">垃圾。突然他一抬头，原来是找到了一块儿脏</tspan><tspan x="1129" dy="14.86">兮兮的面包上面还有小虫子。他把小虫子拿下</tspan><tspan x="1129" dy="14.86">来放进垃圾桶里，把那块儿饼大口吞吞了下去</tspan><tspan x="1129" dy="14.86">，我看着不由自主的落下了几滴眼泪。</tspan></text></g>
<g id="r5-3"><rect class="box" x="1122.9" y="1306.3" width="243.3" height="40.5" rx="6"/><text class="t" x="1129" y="1323.6"><tspan x="1129">多么感人的故事啊，希望有好心人来帮助他们</tspan><tspan x="1129" dy="14.86">，给予他们一个温暖的家。</tspan></text></g>
<g id="r7-1"><rect class="box" x="1122.9" y="1372.5" width="243.3" height="144.5" rx="6"/><text class="t" x="1129" y="1389.8"><tspan x="1129">随着时间的流逝，许多事在我的记忆中已经模</tspan><tspan x="1129" dy="14.86">糊了，但是，有一件事却令我难忘。 记得两</tspan><tspan x="1129" dy="14.86">年前的冬天，妈妈带着我和表妹上街，天已经</tspan><tspan x="1129" dy="14.86">很晚了，路面上结着冰，非常滑，妈妈想搭一</tspan><tspan x="1129" dy="14.86">辆出租车，可是出租车都走了，这时，有一辆</tspan><tspan x="1129" dy="14.86">出租车开了过来，开出租车的阿姨说:"天已经</tspan><tspan x="1129" dy="14.86">很晚了，路面上又很滑，而且又没出租车，就</tspan><tspan x="1129" dy="14.86">打我的出租车回去吧。"说着，她便请我们上</tspan><tspan x="1129" dy="14.86">车。</tspan></text></g>
<g id="r7-2"><rect class="box" x="1122.9" y="1542.6" width="243.3" height="159.4" rx="6"/><text class="t" x="1129" y="1559.9"><tspan x="1129">在路上，我们和阿姨很投缘，所以就聊了起来</tspan><tspan x="1129" dy="14.86">，原来阿姨每天都十几点才回家，她说:"现在</tspan><tspan x="1129" dy="14.86">天冷，路面上又结冰了，有很多出租车很早就</tspan><tspan x="1129" dy="14.86">回家了，所以有很多家离得远的人，都可以搭</tspan><tspan x="1129" dy="14.86">我的出租车回家，虽然这样回家很晚，但是也</tspan><tspan x="1129" dy="14.86">可以多攒点钱。" 到家了，我们给了钱就下车</tspan><tspan x="1129" dy="14.86">了，出租车走远了，望着那辆出租车的背影，</tspan><tspan x="1129" dy="14.86">一阵阵暖流不禁在我心中激荡。虽然这件事已</tspan><tspan x="1129" dy="14.86">经过去两年了，但是我只要一想起那件令我非</tspan><tspan x="1129" dy="14.86">常感动的事，心里就会暖暖的。</tspan></text></g>
<g id="r9-1"><rect class="box" x="1122.9" y="1727.7" width="243.3" height="40.5" rx="6"/><text class="t" x="1129" y="1745"><tspan x="1129">记得我2017年的那场雪。寒风刺骨，都只想</tspan><tspan x="1129" dy="14.86">待在家里，不愿意出门了。</tspan></text></g>
<g id="r9-2"><rect class="box" x="1122.9" y="1793.8" width="243.3" height="174.2" rx="6"/><text class="t" x="1129" y="1811.1"><tspan x="1129">一个雪天的早晨已经可以盖过鞋子当我打开水</tspan><tspan x="1129" dy="14.86">龙头刷牙洗脸时，发现水龙头里已是大大小小</tspan><tspan x="1129" dy="14.86">的冰块儿了，那时我赶着上学，就从被水箱里</tspan><tspan x="1129" dy="14.86">取出了一碗水，当妈妈发愁怎么送我上学时，</tspan><tspan x="1129" dy="14.86">我们邻居说：培，坐我的车吧，和弟弟一起去</tspan><tspan x="1129" dy="14.86">学校，我的心里充满了开心，我一上车，原来</tspan><tspan x="1129" dy="14.86">还有我的姐妹们，我们说着笑着来到了学校。</tspan><tspan x="1129" dy="14.86">放学了，那位阿姨还是像往常一样，结果们放</tspan><tspan x="1129" dy="14.86">学我们都有点不好意思了，那我阿姨看我在上</tspan><tspan x="1129" dy="14.86">车时说我们都是邻居，互相帮助也是理所当然</tspan><tspan x="1129" dy="14.86">的。</tspan></text></g>
<g id="r9-3"><rect class="box" x="1122.9" y="1993.7" width="243.3" height="85.1" rx="6"/><text class="t" x="1129" y="2011"><tspan x="1129">一天，那位阿姨出去了，让弟弟在我家吃饭，</tspan><tspan x="1129" dy="14.86">那位阿姨说：谢谢你照顾我的儿子，妈妈说：</tspan><tspan x="1129" dy="14.86">没事儿，你也经常说，邻居就要互相帮助，你</tspan><tspan x="1129" dy="14.86">以前也经常帮助我女儿啊，所以帮助你儿子是</tspan><tspan x="1129" dy="14.86">理所当然的。</tspan></text></g>
<g id="r9-4"><rect class="box" x="1122.9" y="2104.5" width="243.3" height="40.5" rx="6"/><text class="t" x="1129" y="2121.8"><tspan x="1129">这是一件小事，但可以看出邻居互相帮助也是</tspan><tspan x="1129" dy="14.86">一种高贵的品德。</tspan></text></g>
<g id="r11-1"><rect class="box" x="1122.9" y="2170.6" width="116.2" height="25.6" rx="6"/><text class="t" x="1129" y="2187.9">那是一年前的事了。</text></g>
<g id="r11-2"><rect class="box" x="1122.9" y="2221.9" width="243.3" height="40.5" rx="6"/><text class="t" x="1129" y="2239.2"><tspan x="1129">清晨，天气晴朗，万里无云，我便和奶奶去公</tspan><tspan x="1129" dy="14.86">园游玩。</tspan></text></g>
<g id="r11-3"><rect class="box" x="1122.9" y="2288.1" width="243.3" height="55.4" rx="6"/><text class="t" x="1129" y="2305.4"><tspan x="1129">哇，公园真美呀！碧绿的草地，苍天的古树，</tspan><tspan x="1129" dy="14.86">可爱的花朵，威武的假山……这真让人眼花瞭</tspan><tspan x="1129" dy="14.86">乱呀！</tspan></text></g>
<g id="r11-4"><rect class="box" x="1122.9" y="2369.1" width="243.3" height="263.4" rx="6"/><text class="t" x="1129" y="2386.4"><tspan x="1129">我和奶奶顺着一条僻静的小路上山去，很快我</tspan><tspan x="1129" dy="14.86">们就来到了小路的尽头，眼前是一条人工大瀑</tspan><tspan x="1129" dy="14.86">布，瀑布声震耳欲聋，瀑布也仿佛高耸入云，</tspan><tspan x="1129" dy="14.86">现在想起诗仙李白的那句"遥望瀑布三千尺，</tspan><tspan x="1129" dy="14.86">疑似银河落九天"真是一点儿也不为过呀！瀑</tspan><tspan x="1129" dy="14.86">布下有个水池，清澈的水引来了成群的蝴蝶和</tspan><tspan x="1129" dy="14.86">蜻蜓。蝴蝶起舞，蜻蜓点水，十分热闹！旁边</tspan><tspan x="1129" dy="14.86">早已围满了游客，我和奶奶看见一上一下的情</tspan><tspan x="1129" dy="14.86">景，都来了兴趣。就在这时，一只蜻蜓不小心</tspan><tspan x="1129" dy="14.86">被瀑布溅起的水花击中，还没等我看清，可怜</tspan><tspan x="1129" dy="14.86">的蜻蜓就已经落入了水中，"哗啦啦……"一阵</tspan><tspan x="1129" dy="14.86">阵瀑布荡漾起的旋涡不禁让蜻蜓在水中直打转</tspan><tspan x="1129" dy="14.86">。我正暗自为蜻蜓担心呢！突然，岸边冲出一</tspan><tspan x="1129" dy="14.86">个少年，他二话不说，便卷起裤腿，迅速冲下</tspan><tspan x="1129" dy="14.86">水去，冰冷的水显然令他着实一惊，但他还是</tspan><tspan x="1129" dy="14.86">尽量努力跑得快一些。很快，他就抓到蜻蜓，</tspan><tspan x="1129" dy="14.86">又拖着那麻木的双腿原路返回。</tspan></text></g>
<g id="r11-5"><rect class="box" x="1122.9" y="2658.2" width="243.3" height="40.5" rx="6"/><text class="t" x="1129" y="2675.5"><tspan x="1129">我在岸边看得真切，事虽不大，可却让我感动</tspan><tspan x="1129" dy="14.86">。因为少年不顾冰冷的水，仍出手相救。</tspan></text></g>
<g id="r11-6"><rect class="box" x="1122.9" y="2724.3" width="208.7" height="25.6" rx="6"/><text class="t" x="1129" y="2741.6">时至今日，这件事还是让我感动万分！</text></g>
<g id="r13-1"><rect class="box" x="1122.9" y="2775.6" width="243.3" height="55.4" rx="6"/><text class="t" x="1129" y="2792.9"><tspan x="1129">每个人的心中一定都有难忘而感动的事，虽然</tspan><tspan x="1129" dy="14.86">他和我在一起的时间十分短暂，但是他却给我</tspan><tspan x="1129" dy="14.86">留下了深刻的印象。</tspan></text></g>
<g id="r13-2"><rect class="box" x="1122.9" y="2856.7" width="243.3" height="129.7" rx="6"/><text class="t" x="1129" y="2874"><tspan x="1129">记得在一个星期三的中午，我和往日一样，跟</tspan><tspan x="1129" dy="14.86">几个同学一起回家。不巧在过马路时，一辆迎</tspan><tspan x="1129" dy="14.86">面而来的自行车把我给撞得四脚朝天，自然伤</tspan><tspan x="1129" dy="14.86">势一定不轻。我轻轻地摸了一下脑袋，啊！流</tspan><tspan x="1129" dy="14.86">血了！幼小的我一下子坐到了地上，吓得不知</tspan><tspan x="1129" dy="14.86">所措。正在这时，一位年轻的叔叔走过来，他</tspan><tspan x="1129" dy="14.86">见我头破血流，立刻打了一辆出租车把我送往</tspan><tspan x="1129" dy="14.86">医院。</tspan></text></g>
<g id="r13-3"><rect class="box" x="1122.9" y="3012" width="243.3" height="159.4" rx="6"/><text class="t" x="1129" y="3029.3"><tspan x="1129">一路上，我疼得睁不开眼睛，并且大声喊疼，</tspan><tspan x="1129" dy="14.86">那位叔叔不停地安慰我，照顾我。到了医院，</tspan><tspan x="1129" dy="14.86">我被推进了手术室。做完手术，我突然想起了</tspan><tspan x="1129" dy="14.86">妈妈，口中不停地大喊："妈妈，妈妈！"这位</tspan><tspan x="1129" dy="14.86">叔叔问了我家的电话号码，打电话给我的爸爸</tspan><tspan x="1129" dy="14.86">妈妈，还下楼给我买吃的。我很快又睡着了。</tspan><tspan x="1129" dy="14.86">当我醒来的时候，那位叔叔、爸爸、妈妈、老</tspan><tspan x="1129" dy="14.86">师和同学都围在我身边。豆大的泪珠从我的眼</tspan><tspan x="1129" dy="14.86">眶里涌了出来。这是感动的泪水，也是友谊的</tspan><tspan x="1129" dy="14.86">泪水！</tspan></text></g>
<g id="r13-4"><rect class="box" x="1122.9" y="3197" width="243.3" height="40.5" rx="6"/><text class="t" x="1129" y="3214.3"><tspan x="1129">我想，这件感动人心的事我会深深地印在脑海</tspan><tspan x="1129" dy="14.86">里，永远不会忘怀！</tspan></text></g>
<g id="r15-1"><rect class="box" x="1122.9" y="3263.2" width="243.3" height="40.5" rx="6"/><text class="t" x="1129" y="3280.5"><tspan x="1129">我曾经听到过一件震撼人心的事，深深印在我</tspan><tspan x="1129" dy="14.86">的脑海中。</tspan></text></g>
<g id="r15-2"><rect class="box" x="1122.9" y="3329.3" width="243.3" height="174.2" rx="6"/><text class="t" x="1129" y="3346.6"><tspan x="1129">那是20xx年的冬天，中国部分地区下了一场5</tspan><tspan x="1129" dy="14.86">0年难一遇的大雪。高速公路交通警察官姜军</tspan><tspan x="1129" dy="14.86">平与往日一样正在处理一场因雪至路滑而导致</tspan><tspan x="1129" dy="14.86">追尾的交通事故。正在这时，一辆现代牌小轿</tspan><tspan x="1129" dy="14.86">车想脱缰的野马向姜军平冲去，不偏不倚的撞</tspan><tspan x="1129" dy="14.86">在了这位交警身上，毫无防备的姜军平倒在了</tspan><tspan x="1129" dy="14.86">血泊之中……姜军平被送往医院，昏迷不醒。</tspan><tspan x="1129" dy="14.86">医生说："姜军平车祸后患下了轻微的脑震荡</tspan><tspan x="1129" dy="14.86">。"而姜军平仅6。7岁的儿子不知情，在他的</tspan><tspan x="1129" dy="14.86">爸爸病床前对记者们说道："爸爸摔了一跤，</tspan><tspan x="1129" dy="14.86">他累了，在睡觉。你们快出去。"</tspan></text></g>
<g id="r15-3"><rect class="box" x="1122.9" y="3529.2" width="243.3" height="55.4" rx="6"/><text class="t" x="1129" y="3546.5"><tspan x="1129">听了这则故事，我十分感动。我也很自豪，在</tspan><tspan x="1129" dy="14.86">雪灾的狞笑声中，中国的一位尽忠职守的人民</tspan><tspan x="1129" dy="14.86">交警。我祝愿：姜军平早日恢复健康。</tspan></text></g>
<g id="r15-4"><rect class="box" x="1122.9" y="3610.3" width="243.3" height="55.4" rx="6"/><text class="t" x="1129" y="3627.6"><tspan x="1129">"姜军平"的三个字永远留在我的脑海中，我不</tspan><tspan x="1129" dy="14.86">会忘记，20xx年的那一场雪，发生在我们身</tspan><tspan x="1129" dy="14.86">边许多震撼人心的时刻。</tspan></text></g>
<g id="r17-1"><rect class="box" x="1122.9" y="3691.3" width="243.3" height="218.8" rx="6"/><text class="t" x="1129" y="3708.6"><tspan x="1129">那是一个阳光明媚的清晨，我背着书包去上学</tspan><tspan x="1129" dy="14.86">。快走到学校的时候，我后面一个小弟弟告诉</tspan><tspan x="1129" dy="14.86">我你的书包没有拉上，我回头看了一下果然没</tspan><tspan x="1129" dy="14.86">有拉，我就赶紧看看有没有丢东西，结果发现</tspan><tspan x="1129" dy="14.86">语文书丢了，正巧第一节课就是语文课，我看</tspan><tspan x="1129" dy="14.86">了下时间还有15分钟就飞快的往回跑，结果</tspan><tspan x="1129" dy="14.86">我听见有一位叔叔在叫我的名子。我就跑过去</tspan><tspan x="1129" dy="14.86">，看见他手里拿着我的语文书，一看表已经8</tspan><tspan x="1129" dy="14.86">点了，那个好心的叔叔把书给了我，告诉我以</tspan><tspan x="1129" dy="14.86">后不要这样粗心了。我说好，话音刚落，好心</tspan><tspan x="1129" dy="14.86">的叔叔已经无影无踪了。我知道他去干啥了，</tspan><tspan x="1129" dy="14.86">他帮我找到书，上班可能会迟到，我还没来得</tspan><tspan x="1129" dy="14.86">急说声谢谢。在回学校的路上我心想，下次如</tspan><tspan x="1129" dy="14.86">果还能遇到这位好心的叔叔一定要说声谢谢！</tspan></text></g>
<g id="r17-2"><rect class="box" x="1122.9" y="3935.8" width="243.3" height="55.4" rx="6"/><text class="t" x="1129" y="3953.1"><tspan x="1129">到了学校，老师问我为什么迟到，我把事情给</tspan><tspan x="1129" dy="14.86">老师说了一遍，老师没有吵我，让我赶紧回到</tspan><tspan x="1129" dy="14.86">座位上课。</tspan></text></g>
<g id="r17-3"><rect class="box" x="1122.9" y="4016.8" width="162.5" height="25.6" rx="6"/><text class="t" x="1129" y="4034.1">所以这件事情令我特别感动。</text></g>
</svg>
